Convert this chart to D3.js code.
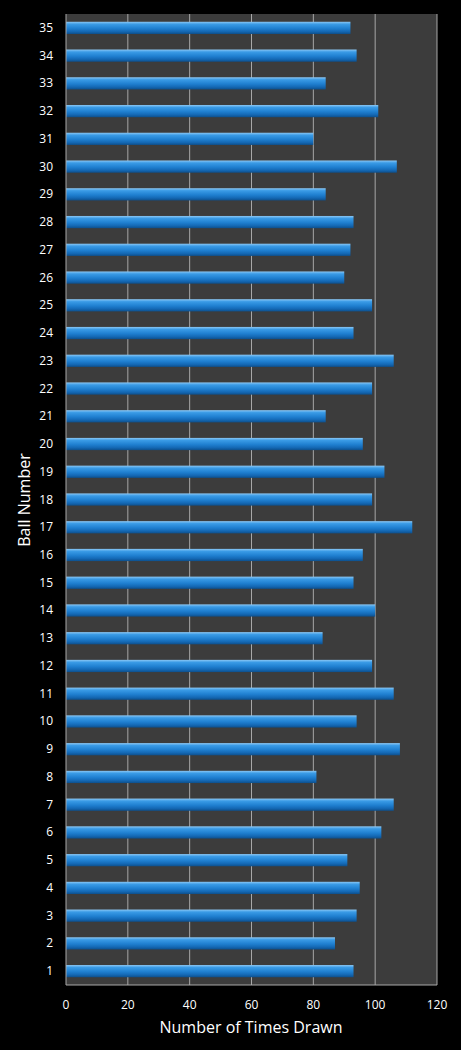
<!DOCTYPE html><html><head><meta charset="utf-8"><script src="https://cdn.jsdelivr.net/npm/d3@7"></script>
<style>body{margin:0;background:#000}</style></head><body><svg id="c" width="461" height="1050"></svg><script>
const balls=d3.range(1,36).map(String);
const counts=[93,87,94,95,91,102,106,81,108,94,106,99,83,100,93,96,112,99,103,96,84,99,106,93,99,90,92,93,84,107,80,101,84,94,92];
const xTicks=[0,20,40,60,80,100,120];
const svg=d3.select("#c");
const m={l:66,r:437,t:14,b:985};
const x=d3.scaleLinear().domain([0,120]).range([m.l,m.r]);
const y=d3.scaleBand().domain(balls).range([m.b,m.t]).paddingInner(0.56).paddingOuter(0.28);
const defs=svg.append("defs");
const g=defs.append("linearGradient").attr("id","bg").attr("x1",0).attr("x2",0).attr("y1",0).attr("y2",1);
[[0,"#8cc8f5"],[0.2,"#3a9be6"],[0.55,"#1f7fd0"],[0.8,"#1468b4"],[1,"#0d4f8c"]].forEach(s=>g.append("stop").attr("offset",s[0]).attr("stop-color",s[1]));
svg.append("rect").attr("x",m.l).attr("y",m.t).attr("width",m.r-m.l).attr("height",m.b-m.t).attr("fill","#3c3c3c");
svg.append("g").selectAll("line").data(xTicks.slice(1)).join("line").attr("x1",d=>x(d)).attr("x2",d=>x(d)).attr("y1",m.t).attr("y2",m.b).attr("stroke","#a8a8a8").attr("stroke-width",1);
svg.append("g").selectAll("rect").data(counts).join("rect").attr("x",x(0)).attr("y",(d,i)=>y(balls[i])).attr("width",d=>x(d)-x(0)).attr("height",y.bandwidth()).attr("fill","url(#bg)");
svg.append("line").attr("x1",m.l).attr("x2",m.l).attr("y1",m.t).attr("y2",m.b).attr("stroke","#a8a8a8");
svg.append("line").attr("x1",m.l).attr("x2",m.r).attr("y1",m.b).attr("y2",m.b).attr("stroke","#a8a8a8");
const f="'Open Sans',sans-serif";
svg.append("g").selectAll("text").data(xTicks).join("text").attr("x",d=>x(d)).attr("y",1009).attr("text-anchor","middle").attr("fill","#fff").attr("font-family",f).attr("font-size",12).text(d=>d);
svg.append("g").selectAll("text").data(balls).join("text").attr("x",53).attr("y",d=>y(d)+y.bandwidth()/2+4).attr("text-anchor","end").attr("fill","#fff").attr("font-family",f).attr("font-size",12).text(d=>d);
svg.append("text").attr("x",251).attr("y",1033).attr("text-anchor","middle").attr("fill","#fff").attr("font-family",f).attr("font-size",16).text("Number of Times Drawn");
svg.append("text").attr("transform","translate(30,500) rotate(-90)").attr("text-anchor","middle").attr("fill","#fff").attr("font-family",f).attr("font-size",16).text("Ball Number");
</script></body></html>
